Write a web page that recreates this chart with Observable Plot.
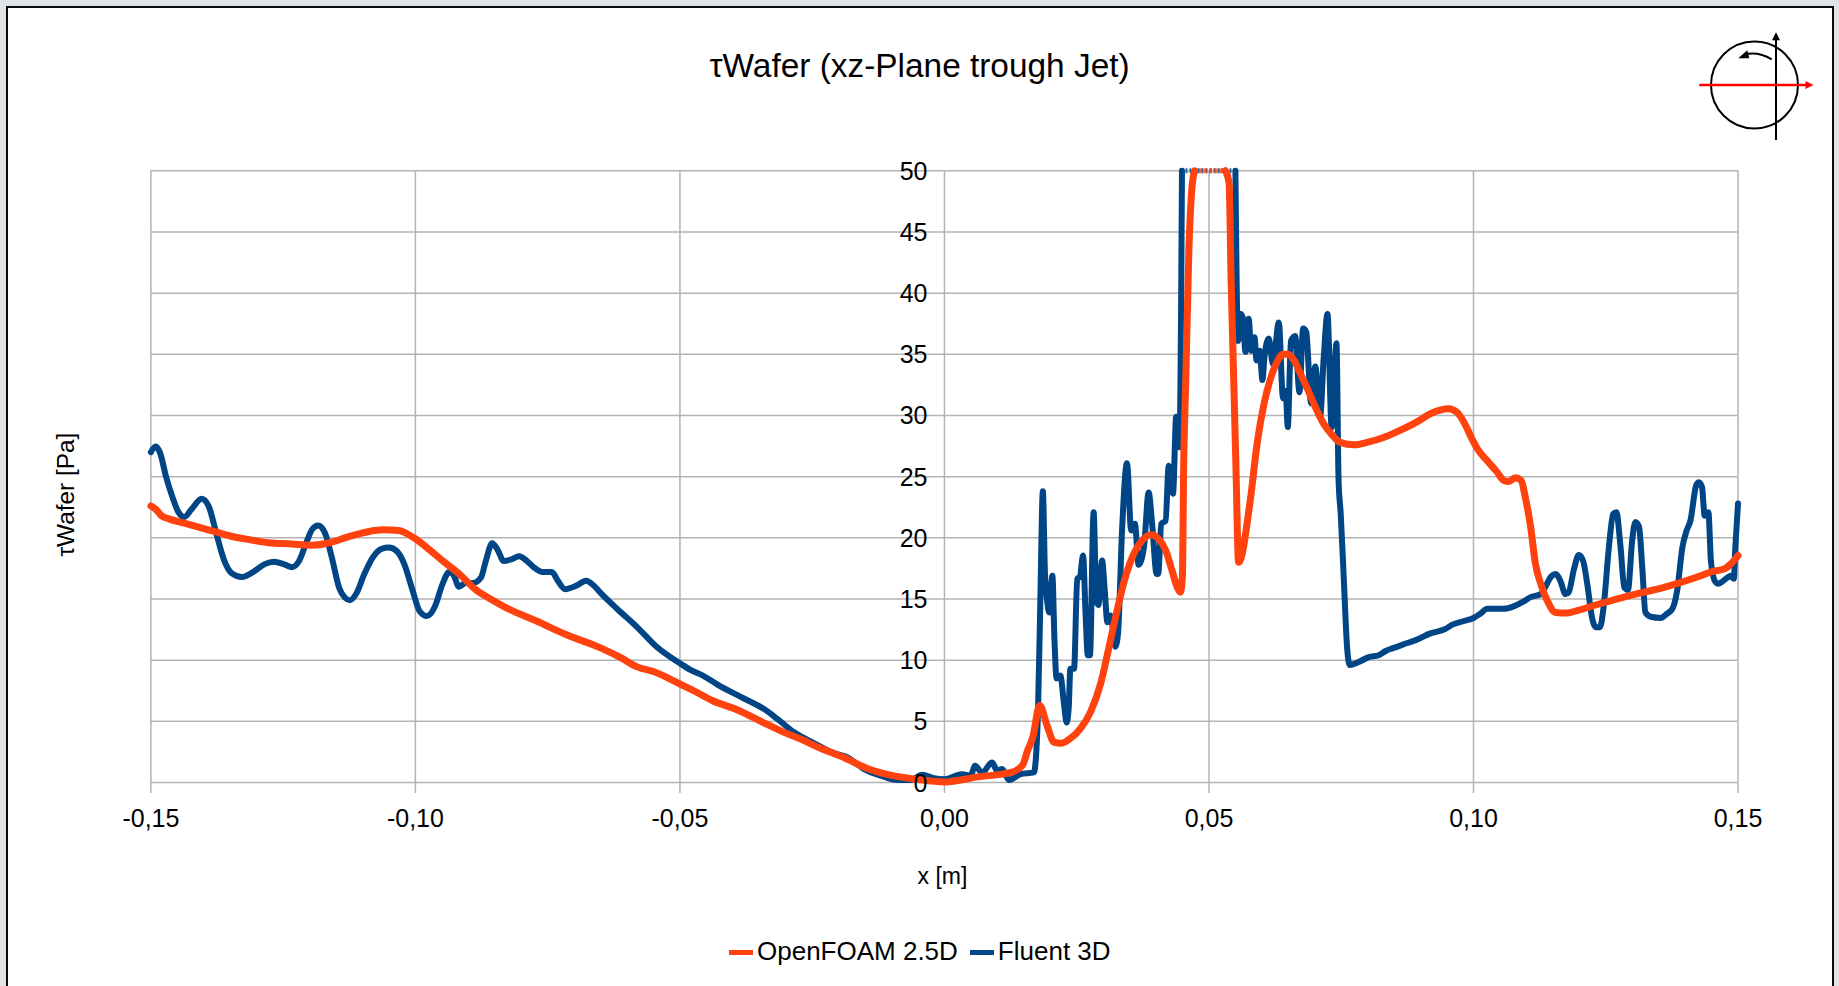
<!DOCTYPE html>
<html>
<head>
<meta charset="utf-8">
<script src="https://cdn.jsdelivr.net/npm/d3@7"></script>
<script src="https://cdn.jsdelivr.net/npm/@observablehq/plot@0.6"></script>
<style>
html,body{margin:0;padding:0;background:#dfe2e6;overflow:hidden}
#page{position:relative;width:1839px;height:986px;font-family:"Liberation Sans",Arial,sans-serif;color:#000}
#frame{position:absolute;left:6px;top:6px;width:1824px;height:990px;background:#fff;border:2.5px solid #0a0a0a}
#chart{position:absolute;left:0;top:0}
#title{position:absolute;left:0;width:1839px;top:45px;text-align:center;font-size:33.4px;line-height:42px}
#legend{position:absolute;top:936px;left:729px;font-size:26px;line-height:30px;white-space:nowrap}
#legend span.key{display:inline-block;width:24px;height:5px;vertical-align:middle;margin-right:4px;position:relative;top:-1px}
#legend span.item{margin-right:12px}
#icon{position:absolute;left:1690px;top:25px}
</style>
</head>
<body>
<div id="page">
<div id="frame"></div>
<div id="chart"></div>
<div id="title">τWafer (xz-Plane trough Jet)</div>
<div id="legend"><span class="item"><span class="key" style="background:#ff420e"></span>OpenFOAM 2.5D</span><span class="item"><span class="key" style="background:#004586"></span>Fluent 3D</span></div>
<svg id="icon" width="140" height="120" viewBox="0 0 140 120">
<circle cx="64.5" cy="60" r="43.5" fill="none" stroke="#000" stroke-width="2"/>
<line x1="86" y1="115" x2="86" y2="12" stroke="#000" stroke-width="2"/>
<path d="M86,7.3l-4,8h8z" fill="#000"/>
<path d="M81.7,34.3Q68,26 54,29.5" fill="none" stroke="#000" stroke-width="2"/>
<path d="M48.3,33.3l9,-8l2,8z" fill="#000"/>
<line x1="9.3" y1="60" x2="118" y2="60" stroke="#f00" stroke-width="2.5"/>
<path d="M123.5,60l-8,-4v8z" fill="#f00"/>
</svg>
</div>
<script>
const xTicks = [-0.15,-0.10,-0.05,0,0.05,0.10,0.15];
const xTickLabels = ["-0,15","-0,10","-0,05","0,00","0,05","0,10","0,15"];
const yTicks = [0,5,10,15,20,25,30,35,40,45,50];

const fluentX = [-0.15,-0.1491,-0.1482,-0.1472,-0.1459,-0.1448,-0.1437,-0.1423,-0.1404,-0.139,-0.1376,-0.1361,-0.1347,-0.1328,-0.1307,-0.1285,-0.1267,-0.1249,-0.1233,-0.122,-0.1205,-0.1195,-0.1184,-0.1171,-0.1158,-0.1144,-0.1133,-0.1124,-0.1111,-0.1097,-0.1079,-0.1064,-0.105,-0.1035,-0.1021,-0.1006,-0.0992,-0.0978,-0.0963,-0.0949,-0.0936,-0.0927,-0.0918,-0.0905,-0.0891,-0.0876,-0.0867,-0.0855,-0.0845,-0.0833,-0.0818,-0.0804,-0.0789,-0.0775,-0.076,-0.0742,-0.0731,-0.0717,-0.0695,-0.0677,-0.0663,-0.065,-0.0619,-0.0581,-0.0543,-0.05,-0.048,-0.0455,-0.0429,-0.0385,-0.0341,-0.0316,-0.0284,-0.0246,-0.0209,-0.0183,-0.0152,-0.012,-0.0089,-0.0064,-0.0042,-0.002,0,0.0033,0.0049,0.0058,0.0071,0.009,0.01,0.0109,0.0122,0.0144,0.0169,0.0173,0.0177,0.0181,0.0186,0.019,0.0194,0.0198,0.0204,0.0208,0.0212,0.0219,0.0226,0.0231,0.0235,0.0238,0.0245,0.0251,0.0256,0.0262,0.0267,0.0271,0.0275,0.0282,0.0287,0.0291,0.0298,0.0303,0.0308,0.0314,0.0318,0.0323,0.0328,0.0336,0.0345,0.0353,0.036,0.0367,0.0377,0.0386,0.0393,0.0401,0.0404,0.041,0.0418,0.0424,0.0432,0.0438,0.0444,0.0449,0.05,0.055,0.0555,0.056,0.0564,0.0569,0.0575,0.058,0.0586,0.059,0.0596,0.0601,0.0605,0.0613,0.0621,0.0632,0.064,0.0645,0.0649,0.0655,0.0663,0.0671,0.0678,0.0684,0.0693,0.0701,0.071,0.0717,0.0724,0.0732,0.0741,0.0745,0.0749,0.0755,0.0761,0.0766,0.0783,0.0802,0.0821,0.0834,0.0849,0.0875,0.0897,0.0916,0.0947,0.096,0.0982,0.1,0.1013,0.1026,0.1038,0.1057,0.1076,0.1095,0.1108,0.1127,0.1136,0.1146,0.1156,0.1164,0.1174,0.118,0.119,0.1199,0.1207,0.1215,0.1224,0.1231,0.1239,0.1246,0.1256,0.1264,0.127,0.1278,0.1285,0.1292,0.13,0.1306,0.1313,0.1319,0.1325,0.1335,0.1354,0.1366,0.1376,0.1385,0.1395,0.1403,0.141,0.1421,0.1426,0.1432,0.1437,0.1444,0.1449,0.1457,0.1462,0.148,0.1486,0.1492,0.1495,0.15];
const fluentY = [27,27.46,26.86,25.1,23.3,22.1,21.7,22.35,23.2,22.5,20.3,18.1,17.1,16.8,17.2,17.85,18.05,17.85,17.6,18.1,19.75,20.7,21,20.4,18.4,15.9,15.1,14.9,15.5,17,18.5,19.1,19.2,18.9,17.85,15.8,14,13.6,14.4,16.2,17.2,16.9,16,16.3,16.3,16.75,18.1,19.55,19.05,18.1,18.25,18.5,18.1,17.55,17.2,17.2,16.5,15.8,16.1,16.5,16.1,15.5,14.2,12.7,11.05,9.74,9.2,8.7,8,7,6,5.2,4.1,3.2,2.4,2.05,1.1,0.55,0.2,0.2,0.63,0.35,0.27,0.68,0.55,1.36,0.8,1.63,0.95,1.1,0.2,0.68,0.82,2.07,6.16,14.3,23.8,17.1,14.9,13.9,16.9,11.6,8.5,8.75,6.4,4.9,6.2,9.3,9.3,16.65,16.8,18.55,13.5,10.4,10.4,22.1,14.9,14.5,18.15,15.7,13.1,13.65,12.7,11.1,12.15,20.9,26.1,20.6,21.15,17.8,19.2,23.7,20.9,17.05,17.05,21.15,21.4,25.9,23.6,29.9,27.4,50,null,50,36.1,38.3,38,35.2,37.9,35.3,36.4,34.5,35.3,32.9,34.8,36.3,34.2,37.6,31.4,32,29.05,36.1,36.5,31.9,37.1,36.8,31,34,29.9,34.8,38.3,29,35.9,24.7,22,16.5,11.1,9.6,9.85,10.25,10.4,10.75,11,11.4,11.75,12.15,12.55,12.9,13.2,13.45,13.8,14.2,14.2,14.2,14.4,14.8,15.15,15.4,16,16.8,17.05,16.5,15.4,15.55,17.45,18.6,18.15,16.25,13.5,12.7,12.7,14.35,19.25,21.95,22.1,19.25,15.95,15.75,19.8,21.3,20.9,17.6,13.9,13.55,13.45,13.8,14.2,15.7,19.25,20.6,21.4,24.3,24.55,24.15,21.8,22.1,18,16.4,16.25,16.75,16.9,16.65,19.25,22.8];

const foamX = [-0.15,-0.1491,-0.148,-0.1466,-0.1437,-0.1408,-0.1379,-0.135,-0.1314,-0.1278,-0.1234,-0.1198,-0.1162,-0.1126,-0.109,-0.1061,-0.1032,-0.1003,-0.0974,-0.0945,-0.0916,-0.0887,-0.0858,-0.0829,-0.0771,-0.0713,-0.065,-0.0612,-0.0581,-0.0549,-0.05,-0.0467,-0.0439,-0.0392,-0.0347,-0.0303,-0.0272,-0.0234,-0.019,-0.0146,-0.0102,-0.0051,0,0.0063,0.0126,0.0148,0.0157,0.0167,0.018,0.0194,0.0207,0.022,0.0235,0.0257,0.0276,0.0295,0.0311,0.0327,0.0342,0.0358,0.0374,0.039,0.0405,0.0418,0.043,0.044,0.0446,0.045,0.0452,0.0456,0.0462,0.0468,0.0473,0.05,0.0531,0.0538,0.0542,0.0547,0.0551,0.0556,0.0578,0.0591,0.0604,0.0617,0.063,0.0639,0.065,0.0661,0.0673,0.0686,0.0701,0.0717,0.0733,0.0748,0.0774,0.0799,0.083,0.0862,0.0894,0.0919,0.0938,0.0953,0.0969,0.0982,0.0997,0.1007,0.1026,0.1045,0.1057,0.1067,0.1079,0.109,0.1098,0.1108,0.1117,0.1127,0.1139,0.1155,0.1177,0.1196,0.1234,0.1297,0.136,0.1423,0.1448,0.1476,0.1486,0.15];
const foamY = [22.6,22.35,21.8,21.55,21.2,20.85,20.5,20.15,19.85,19.6,19.5,19.4,19.6,20.1,20.5,20.65,20.6,20,19.05,18,17,15.8,15,14.3,13.2,12.05,11,10.2,9.45,9.05,8.05,7.35,6.7,5.95,5,4.1,3.55,2.8,2.05,1.15,0.6,0.25,0.05,0.46,0.82,1.44,2.6,3.7,6.3,4.65,3.3,3.2,3.5,4.4,5.75,8.05,11.05,14.2,16.8,18.7,19.8,20.25,19.9,19,17.35,15.95,15.55,17,25.2,32.6,43.5,48.7,50,null,50,49,40.8,32.6,25.8,18,23.05,27.7,30.95,33.1,34.5,35,35,34.5,33.4,32.2,30.7,29.3,28.4,27.8,27.6,27.8,28.2,28.8,29.5,30.15,30.45,30.55,30.25,29.45,28.1,27.3,26.3,25.35,24.7,24.6,24.9,24.7,23.3,20.9,17.9,16.25,14.9,13.9,13.85,14.05,14.55,15.3,15.95,16.8,17.2,17.5,17.85,18.55];

const flatFluent = [{x1:0.0449,x2:0.055,y:50}];
const flatFoam = [{x1:0.0473,x2:0.0531,y:50}];

const fluent = fluentX.map((x,i)=>({x,y:fluentY[i]}));
const foam = foamX.map((x,i)=>({x,y:foamY[i]}));
const GRID = "#b3b3b3";
const font = '"Liberation Sans",Arial,sans-serif';

const plot = Plot.plot({
  width:1839, height:986,
  marginLeft:150.4, marginRight:101.5, marginTop:170.3, marginBottom:204,
  style:{background:"transparent",fontFamily:font,color:"#000"},
  x:{domain:[-0.15,0.15],axis:null},
  y:{domain:[0,50],axis:null},
  marks:[
    Plot.ruleY(yTicks,{stroke:GRID,strokeWidth:1.5,strokeOpacity:1}),
    Plot.ruleX(xTicks,{y1:-0.9,y2:50,stroke:GRID,strokeWidth:1.5,strokeOpacity:1}),
    Plot.ruleY(flatFluent,{x1:"x1",x2:"x2",y:"y",stroke:"#004586",strokeWidth:5,strokeOpacity:0.8,strokeDasharray:"2 2"}),
    Plot.line(fluent,{x:"x",y:"y",stroke:"#004586",strokeWidth:6,curve:"monotone-x",strokeLinejoin:"round"}),
    Plot.ruleY(flatFoam,{x1:"x1",x2:"x2",y:"y",stroke:"#ff420e",strokeWidth:5,strokeOpacity:0.75,strokeDasharray:"3 2"}),
    Plot.line(foam,{x:"x",y:"y",stroke:"#ff420e",strokeWidth:7,curve:"monotone-x",strokeLinejoin:"round"}),
    Plot.text(yTicks,{x:0,y:d=>d,text:d=>String(d),textAnchor:"end",dx:-17,dy:1,fontSize:25,fill:"#000"}),
    Plot.text(xTicks,{x:d=>d,y:0,text:(d,i)=>xTickLabels[i],dy:36,fontSize:25,fill:"#000"}),
    Plot.text(["x [m]"],{x:0,frameAnchor:"bottom",textAnchor:"middle",lineAnchor:"middle",dy:94,dx:-2,fontSize:23,fill:"#000"}),
    Plot.text(["τWafer [Pa]"],{frameAnchor:"left",textAnchor:"middle",lineAnchor:"middle",dx:-85,dy:18,rotate:-90,fontSize:24.4,fill:"#000"})
  ]
});
document.getElementById("chart").appendChild(plot);
</script>
</body>
</html>
